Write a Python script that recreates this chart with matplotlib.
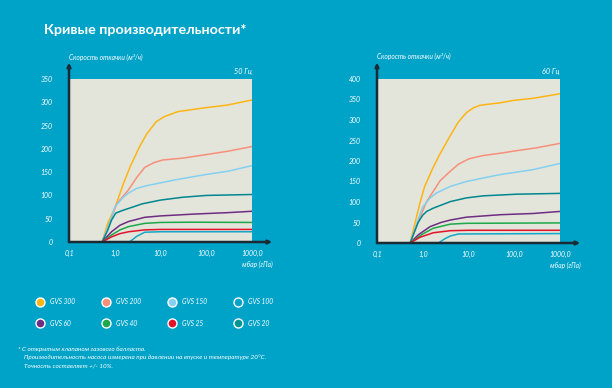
import matplotlib
matplotlib.use("Agg")
import matplotlib.pyplot as plt

plt.rcParams['font.family'] = ['Lato', 'DejaVu Sans']

# Data (x = mbar, y = m3/h)
# 50 Hz
x300_50 = [0.53, 0.7, 1.0, 1.5, 2.2, 3.5, 5, 8, 12, 24, 90, 290, 1000]
y300_50 = [0, 40, 72, 122, 163, 205, 232, 258, 269, 280, 288, 294, 305]
x200_50 = [0.53, 0.8, 1.1, 2, 3, 4.5, 7, 11, 30, 90, 300, 1000]
y200_50 = [0, 45, 82, 112, 138, 160, 170, 176, 180, 187, 195, 205]
x150_50 = [0.53, 0.8, 1.0, 1.5, 2, 3, 5, 10, 20, 50, 100, 300, 1000]
y150_50 = [0, 45, 75, 95, 105, 115, 121, 127, 133, 140, 145, 152, 164]
x100_50 = [0.53, 0.7, 0.85, 1.05, 1.5, 2, 4, 10, 30, 100, 1000]
y100_50 = [0, 25, 47, 62, 68, 72, 82, 90, 96, 100, 102]
x60_50 = [0.53, 0.85, 1.3, 2, 4.5, 10, 55, 290, 1000]
y60_50 = [0, 22, 36, 44, 53, 56, 60, 63, 66]
x40_50 = [0.53, 0.85, 1.3, 2, 4.5, 10, 50, 1000]
y40_50 = [0, 15, 26, 33, 40, 42, 42.5, 42]
x25_50 = [0.53, 0.85, 1.3, 2, 4.5, 10, 1000]
y25_50 = [0, 11, 18, 22, 26, 27, 27]
x20_50 = [2.1, 3, 4.5, 10, 1000]
y20_50 = [0, 12, 21, 22, 22]

# 60 Hz
x300_60 = [0.53, 0.7, 0.87, 1.1, 1.7, 2.4, 4, 6, 9, 13, 18, 50, 100, 260, 1000]
y300_60 = [0, 55, 98, 138, 185, 218, 262, 295, 318, 330, 336, 342, 348, 353, 364]
x200_60 = [0.53, 0.87, 1.2, 2.4, 4, 6, 10, 20, 50, 110, 300, 1000]
y200_60 = [0, 62, 100, 152, 175, 192, 205, 213, 219, 225, 232, 243]
x150_60 = [0.53, 0.87, 1.0, 1.45, 2, 4, 9, 20, 50, 260, 1000]
y150_60 = [0, 70, 88, 110, 122, 138, 150, 158, 167, 179, 194]
x100_60 = [0.53, 0.79, 1.0, 1.22, 1.7, 4, 9, 21, 110, 1000]
y100_60 = [0, 50, 68, 77, 85, 101, 110, 115, 119, 121]
x60_60 = [0.53, 0.8, 1.45, 2.5, 4, 9, 50, 260, 1000]
y60_60 = [0, 20, 40, 50, 56, 63, 69, 72, 77]
x40_60 = [0.53, 1.0, 1.7, 4, 9, 1000]
y40_60 = [0, 22, 36, 46, 48, 49]
x25_60 = [0.53, 0.87, 1.7, 4, 10, 1000]
y25_60 = [0, 14, 25, 30, 31, 31]
x20_60 = [2.2, 3, 4, 6, 1000]
y20_60 = [0, 10, 17, 22, 23]

models = ["GVS 300", "GVS 200", "GVS 150", "GVS 100", "GVS 60", "GVS 40", "GVS 25", "GVS 20"]
line_colors = ["#FDB515", "#F7907A", "#84D0F0", "#00878F", "#6E2C82", "#1DA84A", "#E3122B", "#13A8C6"]
legend_fill = ["#FDB515", "#F7907A", "#84D0F0", "#00A3C8", "#6E2C82", "#1DA84A", "#E3122B", "#009591"]

xticks = [0.1, 1, 10, 100, 1000]
xtick_labels = ["0,1", "1,0", "10,0", "100,0", "1000,0"]

series_50 = [(x300_50, y300_50), (x200_50, y200_50), (x150_50, y150_50), (x100_50, y100_50),
             (x60_50, y60_50), (x40_50, y40_50), (x25_50, y25_50), (x20_50, y20_50)]
series_60 = [(x300_60, y300_60), (x200_60, y200_60), (x150_60, y150_60), (x100_60, y100_60),
             (x60_60, y60_60), (x40_60, y40_60), (x25_60, y25_60), (x20_60, y20_60)]

BG = "#00A3C8"
PANEL = "#E3E4DA"
AXIS = "#1B2B36"

fig = plt.figure(figsize=(6.12, 3.88), dpi=100, facecolor=BG)

# overlay for titles / legend / footnote in pixel coordinates
over = fig.add_axes([0, 0, 1, 1])
over.set_xlim(0, 612)
over.set_ylim(388, 0)
over.axis("off")
over.patch.set_alpha(0)

over.text(44, 30, "Кривые производительности*", color="white", fontsize=10.3,
          fontweight="bold", va="center", ha="left")


def draw_panel(rect, series, ymax, hz):
    ax = fig.add_axes(rect)
    ax.set_facecolor(PANEL)
    for (xs, ys), c in zip(series, line_colors):
        ax.plot(xs, ys, color=c, lw=1.1, solid_capstyle="round", solid_joinstyle="round")
    ax.set_xscale("log")
    ax.set_xlim(0.1, 1000)
    ax.set_ylim(0, ymax)
    ax.set_xticks(xticks)
    ax.set_xticklabels(xtick_labels)
    ax.minorticks_off()
    ax.set_yticks(range(0, ymax + 1, 50))
    ax.tick_params(length=0, colors="white", labelsize=5)
    ax.tick_params(axis="y", pad=12)
    ax.tick_params(axis="x", pad=6)
    for lab in ax.get_xticklabels() + ax.get_yticklabels():
        lab.set_fontstyle("italic")
    for s in ax.spines.values():
        s.set_visible(False)
    ax.annotate("", xy=(0, 1.1), xytext=(0, 0), xycoords="axes fraction",
                arrowprops=dict(arrowstyle="-|>", color=AXIS, lw=1.8, mutation_scale=5,
                                shrinkA=0, shrinkB=0), annotation_clip=False)
    ax.annotate("", xy=(1.11, 0), xytext=(0, 0), xycoords="axes fraction",
                arrowprops=dict(arrowstyle="-|>", color=AXIS, lw=1.8, mutation_scale=5,
                                shrinkA=0, shrinkB=0), annotation_clip=False)
    ax.text(0, 1.135, "Скорость откачки (м³/ч)", transform=ax.transAxes, color="white",
            fontsize=4.8, fontstyle="italic", ha="left", va="center")
    ax.text(1.0, 1.043, hz, transform=ax.transAxes, color="white",
            fontsize=5.2, fontstyle="italic", ha="right", va="center")
    ax.text(1.03, -0.135, "мбар (гПа)", transform=ax.transAxes, color="white",
            fontsize=4.8, fontstyle="italic", ha="center", va="center")
    return ax


draw_panel([69 / 612, 146 / 388, 183 / 612, 163 / 388], series_50, 350, "50 Гц")
draw_panel([377 / 612, 145 / 388, 183 / 612, 164 / 388], series_60, 400, "60 Гц")

# legend
leg_x = [40, 106, 172, 238]
leg_y = [302, 323]
for i, name in enumerate(models):
    cx = leg_x[i % 4]
    cy = leg_y[i // 4]
    over.scatter([cx], [cy], s=42, color=legend_fill[i], edgecolors="white", linewidths=1.0)
    over.text(cx + 10, cy, name, color="white", fontsize=4.8, fontstyle="italic",
              ha="left", va="center")

notes = ["* С открытым клапаном газового балласта.",
         "Производительность насоса измерена при давлении на впуске и температуре 20°C.",
         "Точность составляет +/- 10%."]
over.text(18, 349, notes[0], color="white", fontsize=4.6, fontstyle="italic", va="center")
over.text(24, 357.5, notes[1], color="white", fontsize=4.6, fontstyle="italic", va="center")
over.text(24, 366, notes[2], color="white", fontsize=4.6, fontstyle="italic", va="center")

fig.savefig("out.png", dpi=100, facecolor=BG)
